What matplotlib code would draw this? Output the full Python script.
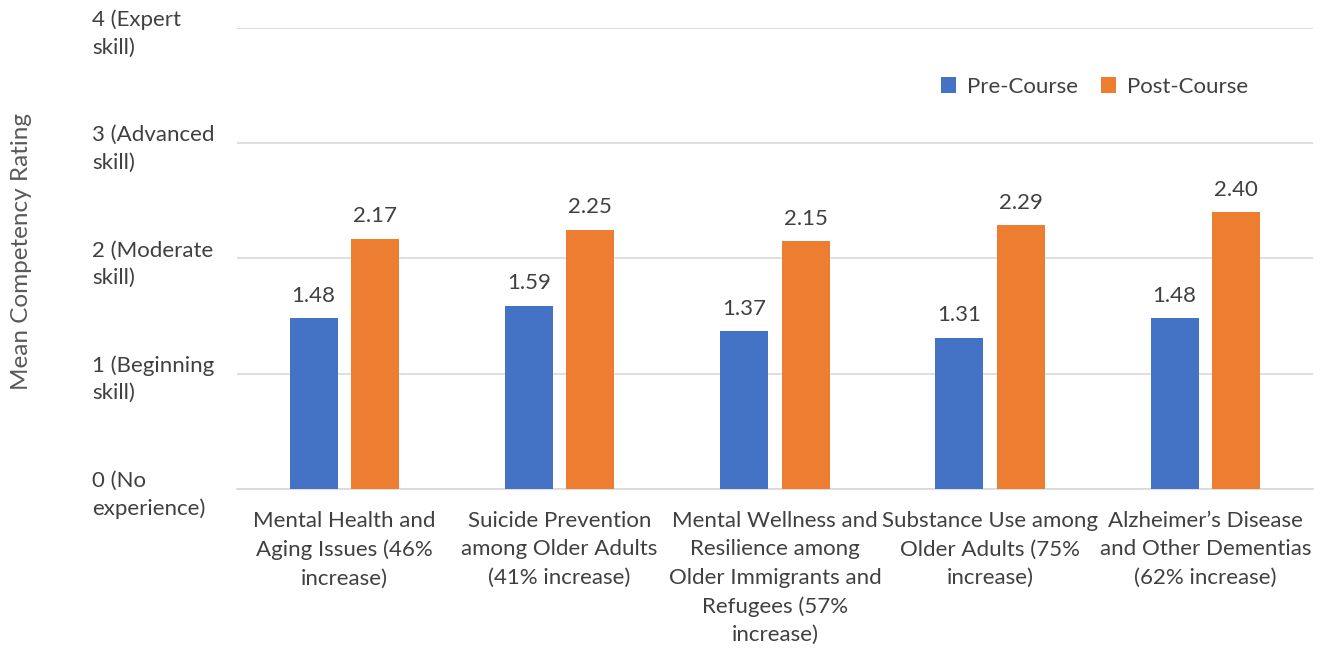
import numpy as np
import matplotlib
matplotlib.use("Agg")
import matplotlib.pyplot as plt

# data
topics = ["Mental Health and\nAging Issues (46%\nincrease)",
          "Suicide Prevention\namong Older Adults\n(41% increase)",
          "Mental Wellness and\nResilience among\nOlder Immigrants and\nRefugees (57%\nincrease)",
          "Substance Use among\nOlder Adults (75%\nincrease)",
          "Alzheimer\u2019s Disease\nand Other Dementias\n(62% increase)"]
pre_course = [1.48, 1.59, 1.37, 1.31, 1.48]
post_course = [2.17, 2.25, 2.15, 2.29, 2.40]
levels = [0, 1, 2, 3, 4]
level_names = ["0 (No\nexperience)", "1 (Beginning\nskill)", "2 (Moderate\nskill)",
               "3 (Advanced\nskill)", "4 (Expert\nskill)"]

plt.rcParams['font.family'] = ['Lato', 'DejaVu Sans']
text_col = '#404040'
fs = 16

fig = plt.figure(figsize=(13.23, 6.51), dpi=100)
ax = fig.add_axes([0.179, 0.249, 0.8134, 0.708])

x = np.arange(len(topics))
w = 0.223
off = 0.143
b1 = ax.bar(x - off, pre_course, w, color='#4472C4', label='Pre-Course', zorder=3)
b2 = ax.bar(x + off, post_course, w, color='#ED7D31', label='Post-Course', zorder=3)

for bars in (b1, b2):
   for r in bars:
      ax.annotate('%.2f' % r.get_height(), (r.get_x() + r.get_width()/2, r.get_height()),
                  xytext=(0, 9), textcoords='offset points', ha='center', va='bottom',
                  fontsize=fs, color=text_col)

ax.set_xlim(-0.5, 4.5)
ax.set_ylim(0, 4)
ax.set_yticks(levels)
ax.set_yticklabels(level_names, fontsize=fs, color=text_col, ha='left',
                   linespacing=1.45)
ax.tick_params(axis='y', length=0, pad=104)
ax.set_xticks(x)
ax.set_xticklabels(topics, fontsize=fs, color=text_col, linespacing=1.52, va='top')
ax.tick_params(axis='x', length=0, pad=16)
ax.grid(axis='y', color='#D9D9D9', linewidth=1.2, zorder=0)
for s in ['top', 'right', 'left']:
   ax.spines[s].set_visible(False)
ax.spines['bottom'].set_color('#D9D9D9')
ax.spines['bottom'].set_linewidth(1.2)

ax.set_ylabel('Mean Competency Rating', fontsize=17.5, color='#595959', labelpad=0)
ax.yaxis.set_label_coords(-0.19, 0.515)

ax.legend(loc='center', bbox_to_anchor=(0.797, 0.872), ncol=2, frameon=False,
          fontsize=fs, handlelength=0.7, handleheight=0.7, columnspacing=1.0,
          handletextpad=0.5, labelcolor=text_col)

fig.savefig('out.png', dpi=100)
